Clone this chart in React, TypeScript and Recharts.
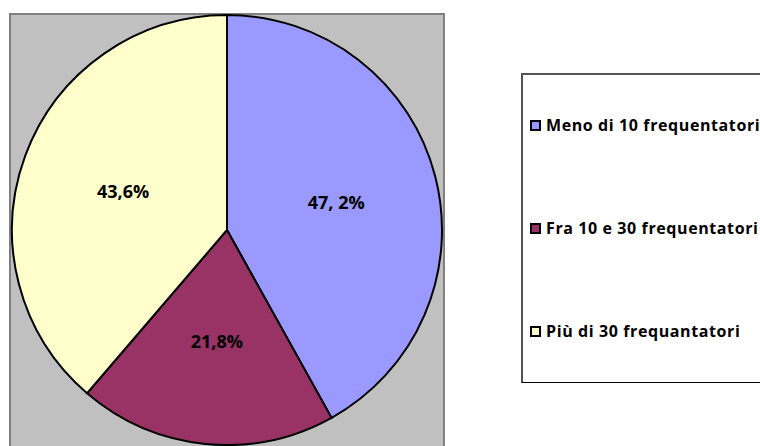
import { PieChart, Pie, Cell } from "recharts";

const categories = [
  "Meno di 10 frequentatori",
  "Fra 10 e 30 frequentatori",
  "Più di 30 frequantatori",
];
const values = [47.2, 21.8, 43.6];
const valueLabels = ["47, 2%", "21,8%", "43,6%"];
const colors = ["#9999FF", "#993366", "#FFFFCC"];

const data = categories.map((name, i) => ({ name, value: values[i], label: valueLabels[i] }));

const RADIAN = Math.PI / 180;
const FONT = "'Open Sans', Lato, sans-serif";

const renderLabel = (props: any) => {
  const { cx, cy, midAngle, outerRadius, index } = props;
  const r = outerRadius * 0.52;
  const x = cx + r * Math.cos(-midAngle * RADIAN) + 1;
  const y = cy + r * Math.sin(-midAngle * RADIAN);
  return (
    <text
      x={x}
      y={y}
      textAnchor="middle"
      dominantBaseline="central"
      fill="#000"
      fontFamily={FONT}
      fontWeight="bold"
      fontSize={18}
    >
      {valueLabels[index]}
    </text>
  );
};

const LegendBox = () => (
  <div
    style={{
      position: "absolute",
      left: 521,
      top: 73,
      width: 260,
      height: 310,
      border: "1px solid #000",
      borderLeft: "2px solid #555",
      borderTop: "2px solid #555",
      background: "#fff",
      boxSizing: "border-box",
      fontFamily: FONT,
      fontWeight: "bold",
      fontSize: 16,
      letterSpacing: 0.6,
    }}
  >
    {categories.map((c, i) => (
      <div
        key={c}
        style={{
          position: "absolute",
          left: 7,
          top: 39 + i * 103,
          height: 22,
          display: "flex",
          alignItems: "center",
          whiteSpace: "nowrap",
        }}
      >
        <span
          style={{
            display: "inline-block",
            width: 7,
            height: 7,
            background: colors[i],
            border: "2px solid #000",
            marginRight: 5,
          }}
        />
        <span>{c}</span>
      </div>
    ))}
  </div>
);

export default function App() {
  return (
    <div style={{ position: "absolute", left: 0, top: 0, width: 760, height: 446, overflow: "hidden", background: "#fff" }}>
      <div
        style={{
          position: "absolute",
          left: 9,
          top: 13,
          width: 436,
          height: 450,
          background: "#C0C0C0",
          border: "2px solid #808080",
          boxSizing: "border-box",
        }}
      />
      <div style={{ position: "absolute", left: 0, top: 0 }}>
        <PieChart width={760} height={446} margin={{ top: 0, right: 0, bottom: 0, left: 0 }}>
          <Pie
            data={data}
            dataKey="value"
            nameKey="name"
            cx={227}
            cy={230}
            outerRadius={215}
            startAngle={90}
            endAngle={-270}
            stroke="#000"
            strokeWidth={2}
            label={renderLabel}
            labelLine={false}
            isAnimationActive={false}
          >
            {data.map((d, i) => (
              <Cell key={d.name} fill={colors[i]} />
            ))}
          </Pie>
        </PieChart>
      </div>
      <LegendBox />
    </div>
  );
}
